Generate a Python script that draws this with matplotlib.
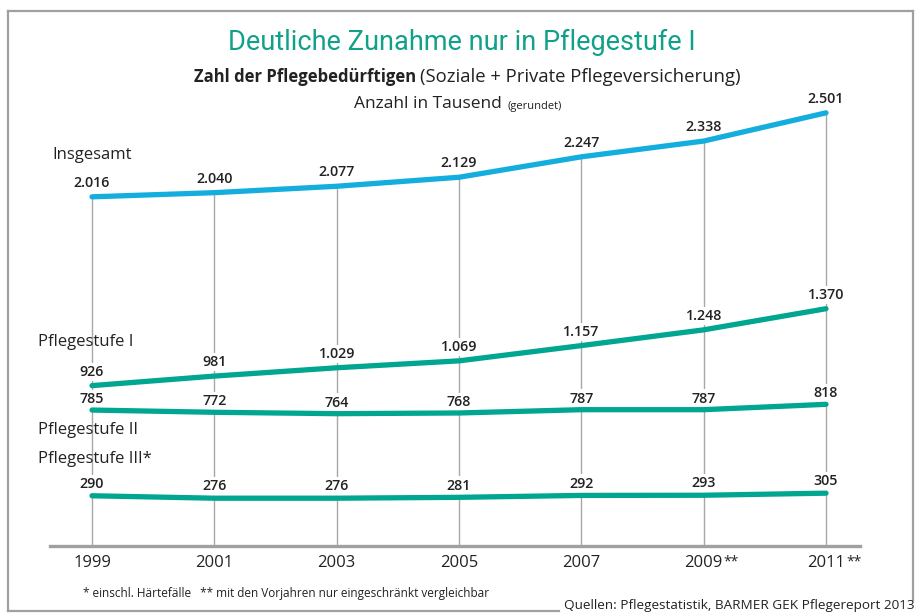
import matplotlib
matplotlib.use("Agg")
import matplotlib.pyplot as plt
from matplotlib.lines import Line2D

# Daten (in Tausend)
jahre = [1999, 2001, 2003, 2005, 2007, 2009, 2011]
jahr_labels = ["1999", "2001", "2003", "2005", "2007", "2009", "2011"]
jahr_suffix = ["", "", "", "", "", "**", "**"]
insgesamt = [2016, 2040, 2077, 2129, 2247, 2338, 2501]
stufe1 = [926, 981, 1029, 1069, 1157, 1248, 1370]
stufe2 = [785, 772, 764, 768, 787, 787, 818]
stufe3 = [290, 276, 276, 281, 292, 293, 305]

BLAU = "#14aede"
TEAL = "#00a68f"
TITEL = "#11a088"
GRAU = "#a8a8a8"
TEXT = "#222222"

plt.rcParams['font.family'] = ['Open Sans', 'DejaVu Sans']

W, H = 917, 616
fig = plt.figure(figsize=(W / 100, H / 100), dpi=100)


def fx(px):
    return px / W


def fy(py):
    return 1 - py / H


# Achse: x-Pixel 50..860, y=0 bei Pixel 546, 0.1732 px pro Einheit
k = 0.1732
ax = fig.add_axes([fx(50), fy(546), fx(810), (546 - 100) / H])
ax.set_xlim(1998.313, 2011.556)
ax.set_ylim(0, (546 - 100) / k)
for s in ["top", "right", "left"]:
    ax.spines[s].set_visible(False)
ax.spines["bottom"].set_color("#a0a0a0")
ax.spines["bottom"].set_linewidth(2.4)
ax.set_yticks([])
ax.set_xticks([])

# senkrechte Hilfslinien
for x, v in zip(jahre, insgesamt):
    ax.plot([x, x], [0, v], color=GRAU, lw=1.0, zorder=1)

serien = [
    (insgesamt, BLAU, 10),
    (stufe1, TEAL, 10),
    (stufe2, TEAL, 8),
    (stufe3, TEAL, 8.5),
]
for werte, farbe, off in serien:
    ax.plot(jahre, werte, color=farbe, lw=3.8, solid_capstyle="round",
            solid_joinstyle="round", zorder=3)
    for x, v in zip(jahre, werte):
        txt = "{:,}".format(v).replace(",", ".")
        ax.annotate(txt, (x, v), xytext=(0, off), textcoords="offset points",
                    ha="center", va="center", fontsize=10.3, fontweight="semibold",
                    color=TEXT, zorder=2,
                    bbox=dict(boxstyle="square,pad=0.15", fc="white", ec="none"))

# Jahreszahlen
for x, lab, suf in zip(jahre, jahr_labels, jahr_suffix):
    ax.annotate(lab, (x, 0), xytext=(0, -12.5), textcoords="offset points",
                ha="center", va="center", fontsize=12, color=TEXT,
                annotation_clip=False)
    if suf:
        ax.annotate(suf, (x, 0), xytext=(14.5, -11.5), textcoords="offset points",
                    ha="left", va="center", fontsize=10, color=TEXT,
                    annotation_clip=False)

# Serienbeschriftungen
fig.text(fx(52), fy(155), "Insgesamt", fontsize=12, color=TEXT, va="center")
fig.text(fx(38), fy(342), "Pflegestufe I", fontsize=12, color=TEXT, va="center")
fig.text(fx(38), fy(430), "Pflegestufe II", fontsize=12, color=TEXT, va="center")
fig.text(fx(38), fy(459), "Pflegestufe III*", fontsize=12, color=TEXT, va="center")

# Titel
fig.text(fx(462), fy(42), "Deutliche Zunahme nur in Pflegestufe I", fontsize=19.5,
         color=TITEL, ha="center", va="center", family=["Roboto", "DejaVu Sans"])
fig.text(fx(416), fy(77), "Zahl der Pflegebedürftigen", fontsize=12,
         fontweight="bold", color=TEXT, ha="right", va="center")
fig.text(fx(420), fy(77), "(Soziale + Private Pflegeversicherung)", fontsize=13.3,
         color=TEXT, ha="left", va="center")
fig.text(fx(502), fy(104), "Anzahl in Tausend", fontsize=12.5, color=TEXT,
         ha="right", va="center")
fig.text(fx(507), fy(106), "(gerundet)", fontsize=8, color=TEXT,
         ha="left", va="center")

# Fussnoten
fig.text(fx(83), fy(593), "* einschl. Härtefälle   ** mit den Vorjahren nur eingeschränkt vergleichbar",
         fontsize=8.5, color=TEXT, va="center")
fig.text(fx(915), fy(605), "Quellen: Pflegestatistik, BARMER GEK Pflegereport 2013",
         fontsize=9.7, color=TEXT, ha="right", va="center")

# Rahmen
rahmen = dict(color="#a0a0a0", lw=1.6, transform=fig.transFigure)
fig.add_artist(Line2D([fx(8), fx(913)], [fy(11), fy(11)], **rahmen))
fig.add_artist(Line2D([fx(8), fx(8)], [fy(11), fy(611)], **rahmen))
fig.add_artist(Line2D([fx(913), fx(913)], [fy(11), fy(600)], **rahmen))
fig.add_artist(Line2D([fx(8), fx(559)], [fy(611), fy(611)], **rahmen))

fig.savefig("out.png", dpi=100)
